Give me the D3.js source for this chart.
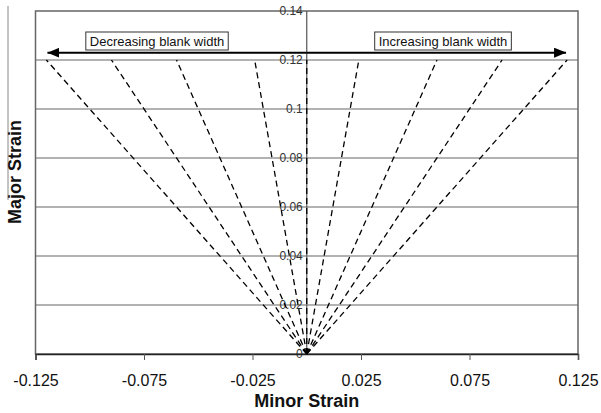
<!DOCTYPE html>
<meta charset="utf-8" />
<script src="https://cdn.jsdelivr.net/npm/d3@7"></script>
<html>
<head>
<style>
  body { margin: 0; background: #fff; }
  text { font-family: Arial, "Liberation Sans", sans-serif; }
</style>
</head>
<body>
<script>
// strain paths: each one runs from the origin up to major strain 0.12
const pathMinor = [-0.12, -0.09, -0.06, -0.024, 0, 0.024, 0.06, 0.09, 0.12];
const pathMajor = [0.12, 0.12, 0.12, 0.12, 0.12, 0.12, 0.12, 0.12, 0.12];
const xTicks = [-0.125, -0.075, -0.025, 0.025, 0.075, 0.125];
const yTicks = [0, 0.02, 0.04, 0.06, 0.08, 0.1, 0.12, 0.14];
const arrowLevel = 0.123;
const notes = ["Decreasing blank width", "Increasing blank width"];

var width = 601, height = 413;
var x0 = 35.5, x1 = 578, y0 = 354, y1 = 11;

var svg = d3.select("body").append("svg")
    .attr("width", width).attr("height", height);

var x = d3.scaleLinear().domain([-0.125, 0.125]).range([x0, x1]);
var y = d3.scaleLinear().domain([0, 0.14]).range([y0, y1]);

// stray line at far left (from the scanned figure)
svg.append("line")
    .attr("x1", 8).attr("x2", 8).attr("y1", 6).attr("y2", 200)
    .attr("stroke", "#888").attr("stroke-width", 1);

// grid
svg.append("g").selectAll("line")
    .data(yTicks.filter(d => d > 0 && d < 0.14))
    .enter().append("line")
    .attr("x1", x0).attr("x2", x1)
    .attr("y1", d => y(d)).attr("y2", d => y(d))
    .attr("stroke", "#999").attr("stroke-width", 1.5);

// plot frame
svg.append("rect")
    .attr("x", x0).attr("y", y1)
    .attr("width", x1 - x0).attr("height", y0 - y1)
    .attr("fill", "none").attr("stroke", "#666").attr("stroke-width", 1.5);

// y axis at minor strain = 0
svg.append("line")
    .attr("x1", x(0)).attr("x2", x(0)).attr("y1", y1).attr("y2", y0)
    .attr("stroke", "#555").attr("stroke-width", 1.2);

svg.append("g").selectAll("text")
    .data(yTicks).enter().append("text")
    .attr("x", x(0) - 4).attr("y", d => y(d))
    .attr("dy", "0.36em")
    .attr("text-anchor", "end")
    .attr("font-size", 12).attr("fill", "#333")
    .text(d => d3.format("")(d));

// x axis
var xAxis = d3.axisBottom(x).tickValues(xTicks).tickSize(6)
    .tickFormat(d => d3.format(".3f")(d).replace("−", "-"));
var gx = svg.append("g").attr("transform", "translate(0," + y0 + ")").call(xAxis);
gx.select(".domain").attr("stroke", "#222").attr("stroke-width", 1.5);
gx.selectAll(".tick line").attr("stroke", "#555");
gx.selectAll(".tick text")
    .attr("font-size", 16).attr("fill", "#111")
    .attr("font-family", "Arial, 'Liberation Sans', sans-serif")
    .attr("y", 21);

// dashed strain paths
var pts = pathMinor.map((d, i) => ({ mx: d, my: pathMajor[i] }));
svg.append("g").selectAll("line")
    .data(pts).enter().append("line")
    .attr("x1", x(0)).attr("y1", y(0))
    .attr("x2", d => x(d.mx)).attr("y2", d => y(d.my))
    .attr("stroke", "#000").attr("stroke-width", 1.3)
    .attr("stroke-dasharray", "6,4");

// arrows
var defs = svg.append("defs");
defs.append("marker")
    .attr("id", "head").attr("viewBox", "0 0 12 10")
    .attr("refX", 12).attr("refY", 5)
    .attr("markerWidth", 12).attr("markerHeight", 10)
    .attr("markerUnits", "userSpaceOnUse")
    .attr("orient", "auto")
    .append("path").attr("d", "M0,0L12,5L0,10Z").attr("fill", "#000");

[-0.1195, 0.1195].forEach(function (end) {
    svg.append("line")
        .attr("x1", x(0)).attr("x2", x(end))
        .attr("y1", y(arrowLevel)).attr("y2", y(arrowLevel))
        .attr("stroke", "#000").attr("stroke-width", 2)
        .attr("marker-end", "url(#head)");
});

// note boxes
var boxes = [{ t: notes[0], cx: -0.069 }, { t: notes[1], cx: 0.0628 }];
boxes.forEach(function (b) {
    var g = svg.append("g");
    var txt = g.append("text")
        .attr("x", x(b.cx)).attr("y", 41.5)
        .attr("dy", "0.35em").attr("text-anchor", "middle")
        .attr("font-size", 13).attr("fill", "#111")
        .text(b.t);
    var bb = txt.node().getBBox();
    g.insert("rect", "text")
        .attr("x", bb.x - 4).attr("y", 32)
        .attr("width", bb.width + 8).attr("height", 18)
        .attr("fill", "#fff").attr("stroke", "#333").attr("stroke-width", 1);
});

// axis titles
svg.append("text")
    .attr("x", x(0)).attr("y", 401)
    .attr("dy", "0.35em").attr("text-anchor", "middle")
    .attr("font-size", 18).attr("font-weight", "bold").attr("fill", "#111")
    .text("Minor Strain");

svg.append("text")
    .attr("transform", "translate(15,172) rotate(-90)")
    .attr("dy", "0.35em").attr("text-anchor", "middle")
    .attr("font-size", 18).attr("font-weight", "bold").attr("fill", "#111")
    .text("Major Strain");
</script>
</body>
</html>
